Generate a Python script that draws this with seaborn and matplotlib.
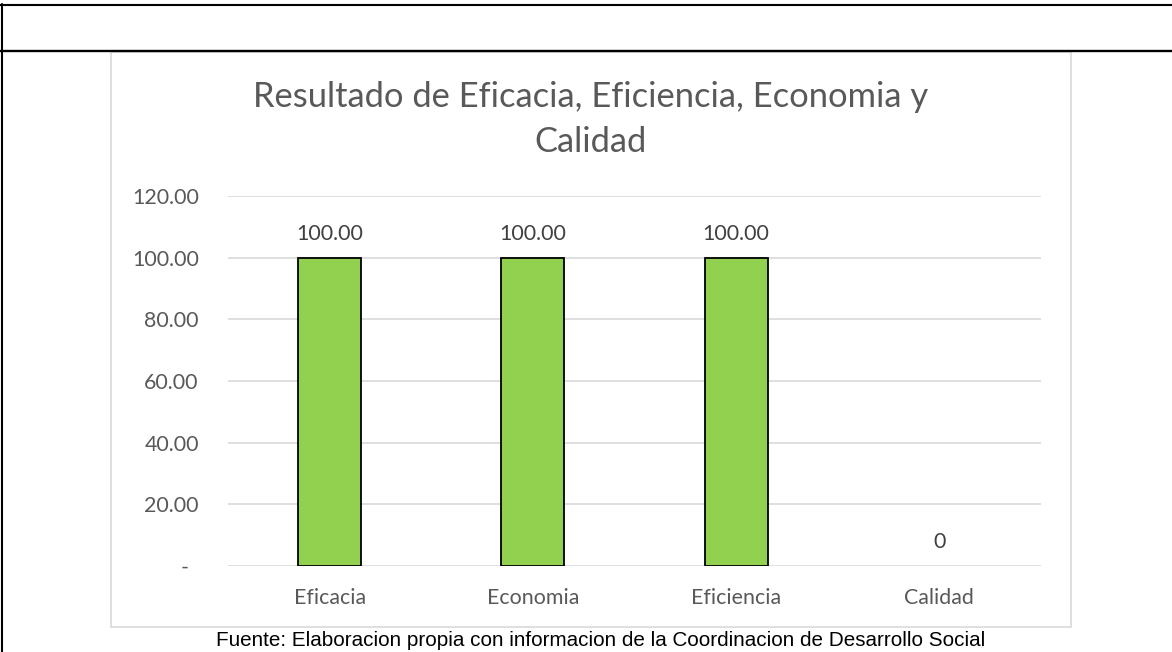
import matplotlib
matplotlib.use("Agg")
import matplotlib.pyplot as plt
import matplotlib.transforms as mtransforms
from matplotlib.patches import Rectangle
from matplotlib.lines import Line2D
import seaborn as sns

categories = ["Eficacia", "Economia", "Eficiencia", "Calidad"]
values = [100.0, 100.0, 100.0, 0.0]
yticks = [0, 20, 40, 60, 80, 100, 120]
ytick_labels = ["-", "20.00", "40.00", "60.00", "80.00", "100.00", "120.00"]
title = "Resultado de Eficacia, Eficiencia, Economia y\nCalidad"
footer = "Fuente: Elaboracion propia con informacion de la Coordinacion de Desarrollo Social"

sns.set_theme(style="white")
plt.rcParams["font.family"] = ["Lato", "DejaVu Sans"]

W, H = 1172, 652
fig = plt.figure(figsize=(W / 100, H / 100), dpi=100)
fig.patch.set_facecolor("white")

def fx(px):
    return px / W

def fy(py):
    return 1 - py / H

# table lines of the document
fig.add_artist(Line2D([0, 1], [fy(4.5), fy(4.5)], transform=fig.transFigure, color="black", lw=1.5))
fig.add_artist(Line2D([0, 1], [fy(50.5), fy(50.5)], transform=fig.transFigure, color="black", lw=1.7))
fig.add_artist(Line2D([fx(1.5), fx(1.5)], [fy(4), 0], transform=fig.transFigure, color="black", lw=1.5))

# chart box
box = Rectangle((fx(111), fy(627)), fx(1071) - fx(111), fy(52) - fy(627),
                transform=fig.transFigure, facecolor="white", edgecolor="#D9D9D9", lw=1.2, zorder=-1)
fig.add_artist(box)

left, right, top, bottom = 228, 1041, 196, 566
ax = fig.add_axes([fx(left), fy(bottom), fx(right) - fx(left), fy(top) - fy(bottom)])
ax.set_zorder(3)
ax.set_facecolor("none")

sns.barplot(x=categories, y=values, color="#92D050", edgecolor="black",
            linewidth=1.3, width=0.31, saturation=1, ax=ax, zorder=3)
for p in ax.patches:
    if p.get_height() == 0:
        p.set_linewidth(0)

ax.set_xlim(-0.5, 3.5)
ax.set_ylim(0, 120)
ax.set_yticks(yticks)
ax.set_yticklabels(ytick_labels)
ax.yaxis.grid(True, color="#D9D9D9", lw=1.2, zorder=0)
ax.set_axisbelow(True)
for s in ax.spines.values():
    s.set_visible(False)
ax.tick_params(axis="y", length=0, pad=21, labelsize=15.4, labelcolor="#595959")
ax.tick_params(axis="x", length=0, pad=16, labelsize=15.4, labelcolor="#595959")
ax.set_xlabel("")
ax.set_ylabel("")

# shift the "-" label like the accounting format
lbl0 = ax.get_yticklabels()[0]
lbl0.set_transform(lbl0.get_transform() + mtransforms.ScaledTranslation(-10 / 100, 0, fig.dpi_scale_trans))

labels = [f"{v:.2f}" if v else "0" for v in values]
ax.bar_label(ax.containers[0], labels=labels, padding=10, fontsize=15.4, color="#404040")

fig.text(fx(591), fy(119.5), title, ha="center", va="center", fontsize=24.8,
         color="#595959", linespacing=1.52)

fig.text(fx(601), fy(641), footer, ha="center", va="center", fontsize=14.9,
         color="black", family=["Liberation Sans", "DejaVu Sans"])

fig.savefig("out.png", dpi=100)
